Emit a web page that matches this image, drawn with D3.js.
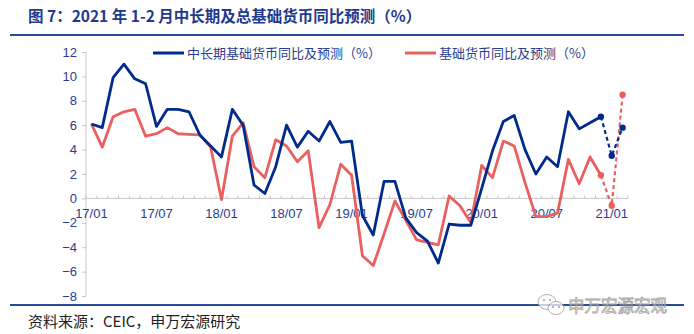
<!DOCTYPE html>
<html><head><meta charset="utf-8">
<script src="https://cdn.jsdelivr.net/npm/d3@7"></script>
<style>
body{margin:0;background:#fff;}
svg{display:block;font-family:"Liberation Sans","Noto Sans CJK SC",sans-serif;}
</style></head>
<body><svg id="c" width="694" height="334"></svg>
<script>
const months = ["17/01","17/02","17/03","17/04","17/05","17/06","17/07","17/08","17/09","17/10","17/11","17/12",
"18/01","18/02","18/03","18/04","18/05","18/06","18/07","18/08","18/09","18/10","18/11","18/12",
"19/01","19/02","19/03","19/04","19/05","19/06","19/07","19/08","19/09","19/10","19/11","19/12",
"20/01","20/02","20/03","20/04","20/05","20/06","20/07","20/08","20/09","20/10","20/11","20/12",
"21/01","21/02"];
const tickLabels = ["17/01","17/07","18/01","18/07","19/01","19/07","20/01","20/07","21/01"];
const yTicks = [-8,-6,-4,-2,0,2,4,6,8,10,12];
const seriesNames = ["中长期基础货币同比及预测（%）","基础货币同比及预测（%）"];
const longTerm = [6.1,5.8,9.9,11.0,9.8,9.4,5.9,7.3,7.3,7.1,5.2,4.3,
3.4,7.3,6.0,1.1,0.4,2.6,6.0,4.2,5.5,4.7,6.3,4.6,
4.7,-1.4,-3.0,1.4,1.4,-1.6,-2.8,-3.5,-5.3,-2.1,-2.2,-2.2,
0.8,3.9,6.3,6.8,4.0,2.0,3.4,2.6,7.1,5.7,6.2,6.7,
3.5,5.8];
const base = [6.1,4.2,6.7,7.1,7.3,5.1,5.3,5.8,5.3,5.25,5.2,4.2,
-0.1,5.1,6.2,2.6,1.7,4.8,4.3,3.0,3.9,-2.4,-0.5,2.8,
1.9,-4.7,-5.5,-2.9,-0.2,-1.8,-3.4,-3.6,-3.8,0.2,-0.6,-2.0,
2.7,1.7,4.7,4.3,1.3,-1.5,-1.5,-1.2,3.2,1.2,3.4,1.9,
-0.6,8.5];
const forecastStart = "20/12";

const svg = d3.select("#c");
const blue = "#002b8c", red = "#e8605f", txt = "#2b3d8f", grid = "#c8c8c8";

// header
svg.append("text").attr("x",28).attr("y",22).attr("fill","#1f3a8f")
  .attr("font-family","'Noto Sans CJK SC',sans-serif").attr("font-weight","bold").attr("font-size",15.5)
  .text("图 7：2021 年 1-2 月中长期及总基础货币同比预测（%）");
svg.append("line").attr("x1",10).attr("x2",684).attr("y1",35).attr("y2",35).attr("stroke","#2a4a9e").attr("stroke-width",2.2);

const x = d3.scaleBand().domain(months).range([86,628]);
const y = d3.scaleLinear().domain([-8,12]).range([296,52]);
const cx = m => x(m) + x.bandwidth()/2;

// y axis
const ya = svg.append("g").attr("transform","translate(86,0)")
  .call(d3.axisLeft(y).tickValues(yTicks).tickSize(4).tickPadding(5).tickFormat(d3.format("d")));
ya.select(".domain").attr("stroke",grid).attr("d","M0,296V52");
ya.selectAll(".tick line").attr("stroke",grid);
ya.selectAll("text").attr("fill",txt).attr("font-size",13);

// x axis at zero
const xa = svg.append("g").attr("transform",`translate(0,${y(0)})`);
xa.append("line").attr("x1",86).attr("x2",628).attr("stroke",grid).attr("stroke-width",1);
const bounds = months.map(m=>x(m)).concat([x(months[months.length-1])+x.bandwidth()]);
xa.selectAll("line.mt").data(bounds).join("line").attr("class","mt")
  .attr("x1",d=>d).attr("x2",d=>d).attr("y1",0).attr("y2",-3).attr("stroke",grid);
xa.selectAll("text").data(tickLabels).join("text")
  .attr("x",d=>cx(d)).attr("y",20).attr("text-anchor","middle")
  .attr("fill",txt).attr("font-size",13).text(d=>d);

// lines
const fi = months.indexOf(forecastStart);
const line = d3.line().x((d,i)=>cx(d.m)).y(d=>y(d.v));
function draw(vals,color){
  const pts = months.map((m,i)=>({m,v:vals[i]}));
  svg.append("path").datum(pts.slice(0,fi+1)).attr("d",line).attr("fill","none")
    .attr("stroke",color).attr("stroke-width",2.8).attr("stroke-linejoin","round");
  svg.append("path").datum(pts.slice(fi)).attr("d",line).attr("fill","none")
    .attr("stroke",color).attr("stroke-width",2.2).attr("stroke-dasharray","4,3");
  svg.selectAll(null).data(pts.slice(fi)).join("circle")
    .attr("cx",d=>cx(d.m)).attr("cy",d=>y(d.v)).attr("r",3.2).attr("fill",color);
}
draw(base,red);
draw(longTerm,blue);

// legend
const lg = [{c:blue,x:153,n:seriesNames[0]},{c:red,x:405,n:seriesNames[1]}];
lg.forEach(l=>{
  svg.append("line").attr("x1",l.x).attr("x2",l.x+31).attr("y1",53).attr("y2",53).attr("stroke",l.c).attr("stroke-width",3);
  svg.append("text").attr("x",l.x+34).attr("y",58).attr("fill",txt).attr("font-size",13)
    .attr("font-family","'Noto Sans CJK SC',sans-serif").text(l.n);
});

// footer
svg.append("line").attr("x1",10).attr("x2",684).attr("y1",305).attr("y2",305).attr("stroke","#2a4a9e").attr("stroke-width",2);
svg.append("text").attr("x",28).attr("y",327).attr("fill","#222").attr("font-size",15)
  .attr("font-family","'Noto Sans CJK SC',sans-serif").text("资料来源：CEIC，申万宏源研究");
// watermark
const wm = svg.append("g").attr("opacity",0.75);
wm.append("ellipse").attr("cx",547).attr("cy",302).attr("rx",9).attr("ry",7.5).attr("fill","#fff").attr("stroke","#999").attr("stroke-width",1);
wm.append("ellipse").attr("cx",556).attr("cy",308).attr("rx",8).attr("ry",6.5).attr("fill","#fff").attr("stroke","#999").attr("stroke-width",1);
[[544,300],[550,300],[553,307],[559,307]].forEach(p=>wm.append("circle").attr("cx",p[0]).attr("cy",p[1]).attr("r",1.1).attr("fill","#888"));
wm.append("text").attr("x",568).attr("y",312).attr("font-size",16.5).attr("fill","#fff").attr("stroke","#888").attr("stroke-width",0.8)
  .attr("font-family","'Noto Sans CJK SC',sans-serif").text("申万宏源宏观");
</script></body></html>
